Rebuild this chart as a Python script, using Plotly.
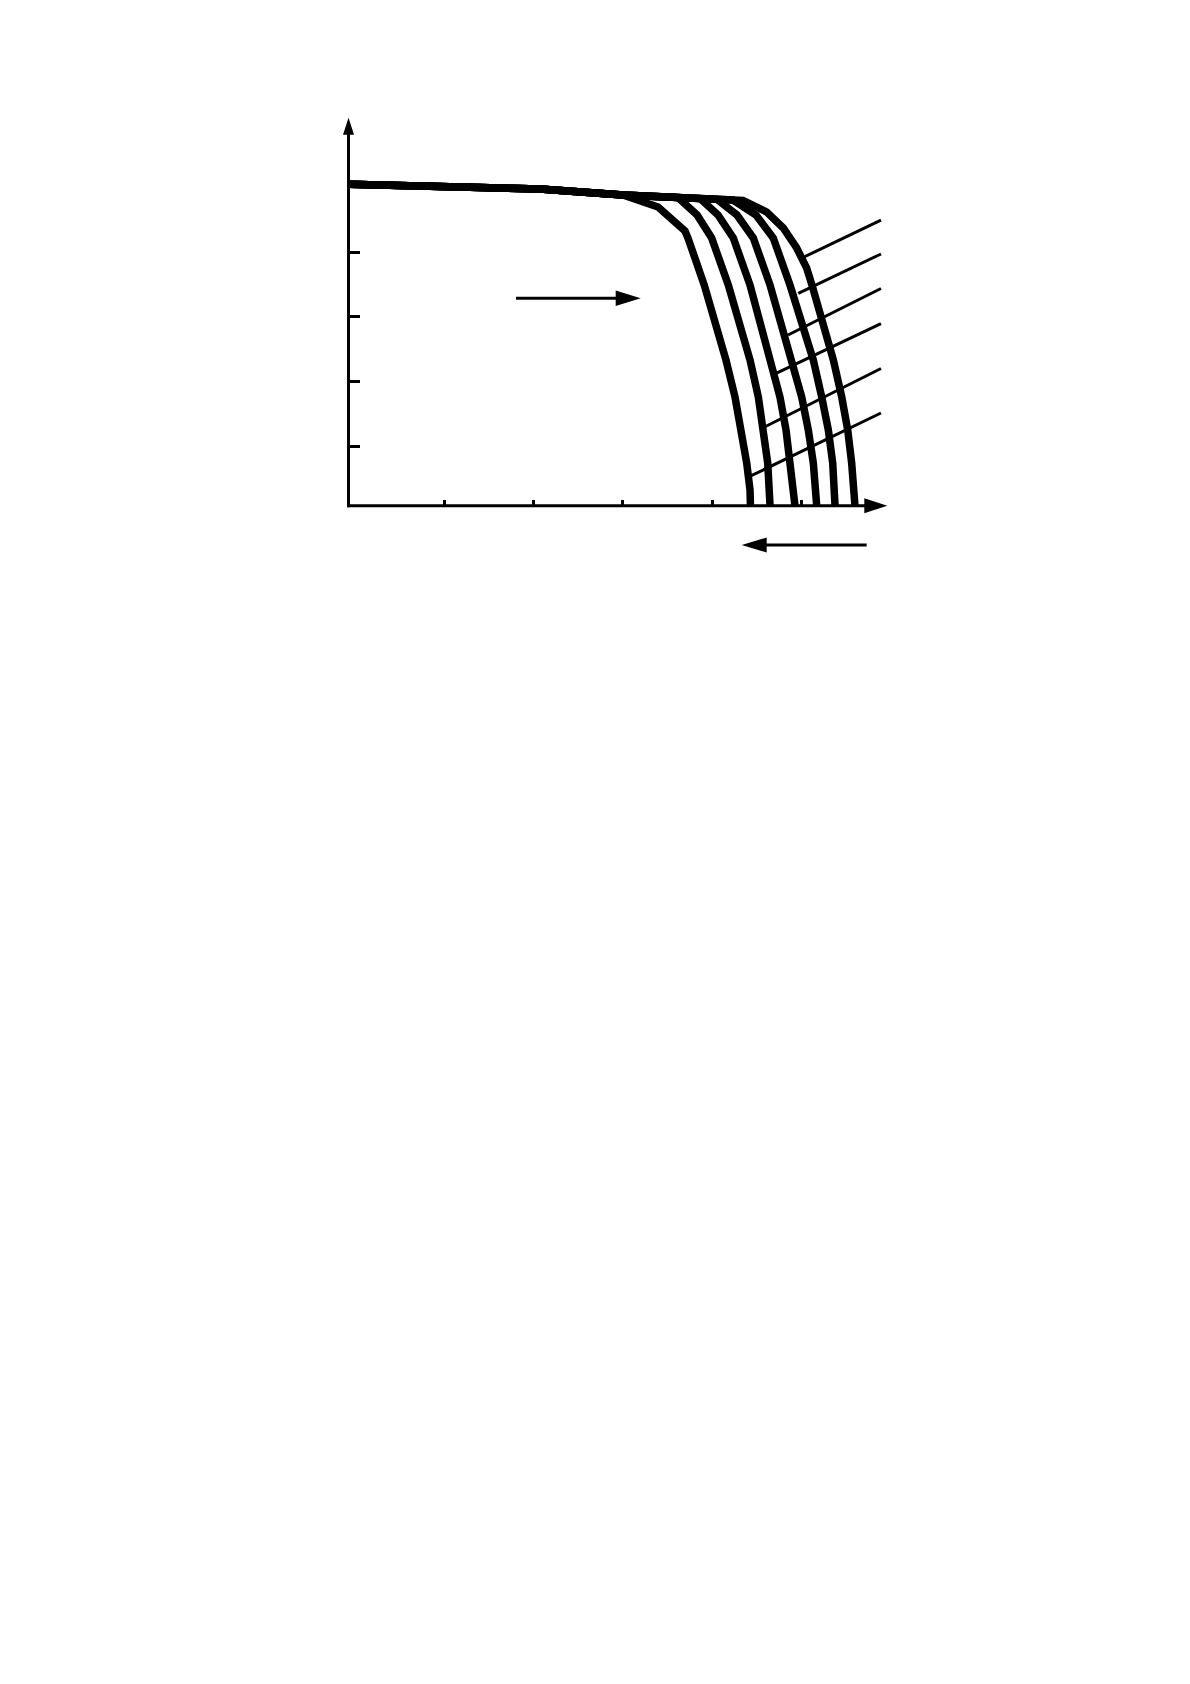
import plotly.graph_objects as go

# chart units: one tick step = 1 on each axis
x_ticks = [1, 2, 3, 4, 5]
y_ticks = [1, 2, 3, 4]

# common flat part shared by all six curves
plateau_x = [-0.06, 2.074, 3.002]
plateau_y = [5.051, 4.978, 4.885]

# knee + drop of each curve (left to right)
c1_x = [3.394, 3.696, 3.729, 3.911, 4.043, 4.154, 4.255, 4.330, 4.386, 4.423, 4.428]
c1_y = [4.700, 4.328, 4.220, 3.492, 2.904, 2.331, 1.759, 1.248, 0.737, 0.319, 0.076]
c2_x = [3.617, 3.831, 3.994, 4.180, 4.311, 4.423, 4.516, 4.572, 4.621, 4.647]
c2_y = [4.846, 4.576, 4.220, 3.492, 2.904, 2.331, 1.759, 1.248, 0.737, 0.076]
c3_x = [3.865, 4.065, 4.236, 4.423, 4.535, 4.647, 4.758, 4.826, 4.878, 4.926]
c3_y = [4.830, 4.576, 4.220, 3.492, 2.904, 2.331, 1.759, 1.248, 0.737, 0.076]
c4_x = [4.054, 4.277, 4.460, 4.647, 4.770, 4.889, 5.001, 5.075, 5.131, 5.169]
c4_y = [4.818, 4.576, 4.220, 3.492, 2.904, 2.331, 1.759, 1.248, 0.737, 0.076]
c5_x = [4.233, 4.490, 4.683, 4.870, 5.010, 5.131, 5.225, 5.299, 5.348, 5.374]
c5_y = [4.807, 4.576, 4.220, 3.492, 2.904, 2.331, 1.759, 1.248, 0.737, 0.076]
c6_x = [4.345, 4.610, 4.795, 4.945, 5.057, 5.116, 5.239, 5.355, 5.449, 5.516, 5.560, 5.597]
c6_y = [4.800, 4.622, 4.375, 4.065, 3.755, 3.492, 2.904, 2.331, 1.759, 1.248, 0.737, 0.076]

# leader lines (label callouts, labels removed)
leader_x0 = [5.016, 4.963, 4.848, 4.714, 4.585, 4.431]
leader_y0 = [3.918, 3.364, 2.718, 2.125, 1.294, 0.536]
leader_x1 = [5.888, 5.888, 5.888, 5.888, 5.888, 5.888]
leader_y1 = [4.498, 3.972, 3.438, 2.896, 2.200, 1.511]

curves = [(c1_x, c1_y), (c2_x, c2_y), (c3_x, c3_y),
          (c4_x, c4_y), (c5_x, c5_y), (c6_x, c6_y)]

# page geometry (page body adds 8px, so margins are pulled back by 8)
W, H = 1190, 1684
ML, MR, MT, MB = 322, 298, 97, 1132
XR = [-0.2752, 6.1007]
YR = [-0.7647, 6.2786]
px_x = (W - ML - MR) / (XR[1] - XR[0])
px_y = (H - MT - MB) / (YR[1] - YR[0])

x_axis_at = 0.076   # y value where the x axis runs
y_axis_at = -0.068  # x value where the y axis runs
LW = 3.0            # thin line width (axes, arrows, leaders)

fig = go.Figure()

for cx, cy in curves:
    fig.add_trace(go.Scatter(x=plateau_x + cx, y=plateau_y + cy, mode='lines',
                             line=dict(color='black', width=7.5), hoverinfo='skip'))

lx, ly = [], []
for a, b, c, d in zip(leader_x0, leader_y0, leader_x1, leader_y1):
    lx += [a, c, None]
    ly += [b, d, None]
fig.add_trace(go.Scatter(x=lx, y=ly, mode='lines', line=dict(color='black', width=LW),
                         hoverinfo='skip'))


def arrow(x0, y0, x1, y1, head_len, head_half):
    # shaft stops at the head base, head drawn as pixel sized triangle
    if y0 == y1:
        sgn = 1 if x1 > x0 else -1
        xb = x1 - sgn * (head_len - 2) / px_x
        fig.add_shape(type='line', x0=x0, y0=y0, x1=xb, y1=y1,
                      line=dict(color='black', width=LW))
        path = 'M0,0 L%g,%g L%g,%g Z' % (-sgn * head_len, head_half, -sgn * head_len, -head_half)
    else:
        yb = y1 - (head_len - 2) / px_y
        fig.add_shape(type='line', x0=x0, y0=y0, x1=x1, y1=yb,
                      line=dict(color='black', width=LW))
        path = 'M0,0 L%g,%g L%g,%g Z' % (-head_half, -head_len, head_half, -head_len)
    fig.add_shape(type='path', xref='x', yref='y', xsizemode='pixel', ysizemode='pixel',
                  xanchor=x1, yanchor=y1, path=path, fillcolor='black', line=dict(width=0))


# axes
arrow(y_axis_at - 0.016, x_axis_at, 5.959, x_axis_at, 23, 7.5)
arrow(y_axis_at, x_axis_at - 0.023, y_axis_at, 6.082, 17, 5.5)
# direction arrows
arrow(1.805, 3.286, 3.200, 3.286, 25, 7.7)
arrow(5.728, -0.533, 4.330, -0.533, 25, 7.5)

fig.update_layout(
    width=W, height=H,
    margin=dict(l=ML, r=MR, t=MT, b=MB),
    paper_bgcolor='white', plot_bgcolor='white',
    showlegend=False,
    xaxis=dict(range=XR, anchor='free', position=(x_axis_at - YR[0]) / (YR[1] - YR[0]),
               showgrid=False, zeroline=False, showline=False,
               tickvals=x_ticks, ticks='inside', ticklen=6, tickwidth=LW, tickcolor='black',
               showticklabels=False, fixedrange=True),
    yaxis=dict(range=YR, anchor='free', position=(y_axis_at - XR[0]) / (XR[1] - XR[0]),
               showgrid=False, zeroline=False, showline=False,
               tickvals=y_ticks, ticks='inside', ticklen=10, tickwidth=LW, tickcolor='black',
               showticklabels=False, fixedrange=True),
)

fig.write_html("out.html")
